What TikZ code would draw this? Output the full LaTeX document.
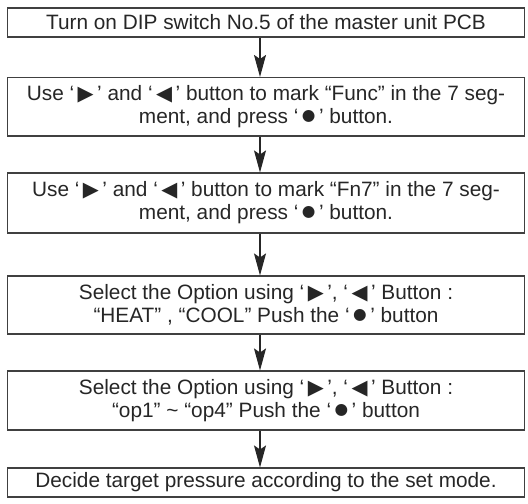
\documentclass[tikz,border=0pt]{standalone}
\usepackage{graphicx}
\usepackage{fontspec}
\setmainfont{Liberation Sans}
\newfontfamily\symf{DejaVu Sans}
\usetikzlibrary{arrows.meta}
\newcommand{\rtri}{{\symf\scalebox{1.0}{▶}}}
\newcommand{\ltri}{{\symf\scalebox{1.0}{◀}}}
\newcommand{\bdot}{\raisebox{0.14em}{\symf\scalebox{0.75}{●}}}
\begin{document}
\begin{tikzpicture}[x=1bp,y=-1bp,
  font=\fontsize{20.8bp}{23bp}\selectfont,
  box/.style={draw=black!75, line width=1.1bp, text=black!85, minimum width=517bp, align=center, inner sep=0pt},
  arr/.style={draw=black!85, line width=1.1bp, -{Stealth[length=22bp,width=12bp,inset=4bp]}}]
\useasboundingbox (0,0) rectangle (528,504);
\node[box, minimum height=29bp] (s1) at (266,22.5) {Turn on DIP switch No.5 of the master unit PCB};
\node[box, minimum height=58.5bp] (s2) at (266,106.75) {Use ‘\,\rtri\,’ and ‘\,\ltri\,’ button to mark “Func” in the 7 seg-\\ment, and press ‘\,\bdot\,’ button.};
\node[box, minimum height=60bp] (s3) at (266,203) {Use ‘\,\rtri\,’ and ‘\,\ltri\,’ button to mark “Fn7” in the 7 seg-\\ment, and press ‘\,\bdot\,’ button.};
\node[box, minimum height=58bp] (s4) at (266,305) {Select the Option using ‘\,\rtri\,’, ‘\,\ltri\,’ Button :\\“HEAT” , “COOL” Push the ‘\,\bdot\,’ button};
\node[box, minimum height=59bp] (s5) at (266,400.5) {Select the Option using ‘\,\rtri\,’, ‘\,\ltri\,’ Button :\\“op1” \textasciitilde{} “op4” Push the ‘\,\bdot\,’ button};
\node[box, minimum height=29bp] (s6) at (266,482.5) {Decide target pressure according to the set mode.};
\coordinate (ax) at (260,0);
\draw[arr] (s1.south -| ax) -- (s2.north -| ax);
\draw[arr] (s2.south -| ax) -- (s3.north -| ax);
\draw[arr] (s3.south -| ax) -- (s4.north -| ax);
\draw[arr] (s4.south -| ax) -- (s5.north -| ax);
\draw[arr] (s5.south -| ax) -- (s6.north -| ax);
\end{tikzpicture}
\end{document}
